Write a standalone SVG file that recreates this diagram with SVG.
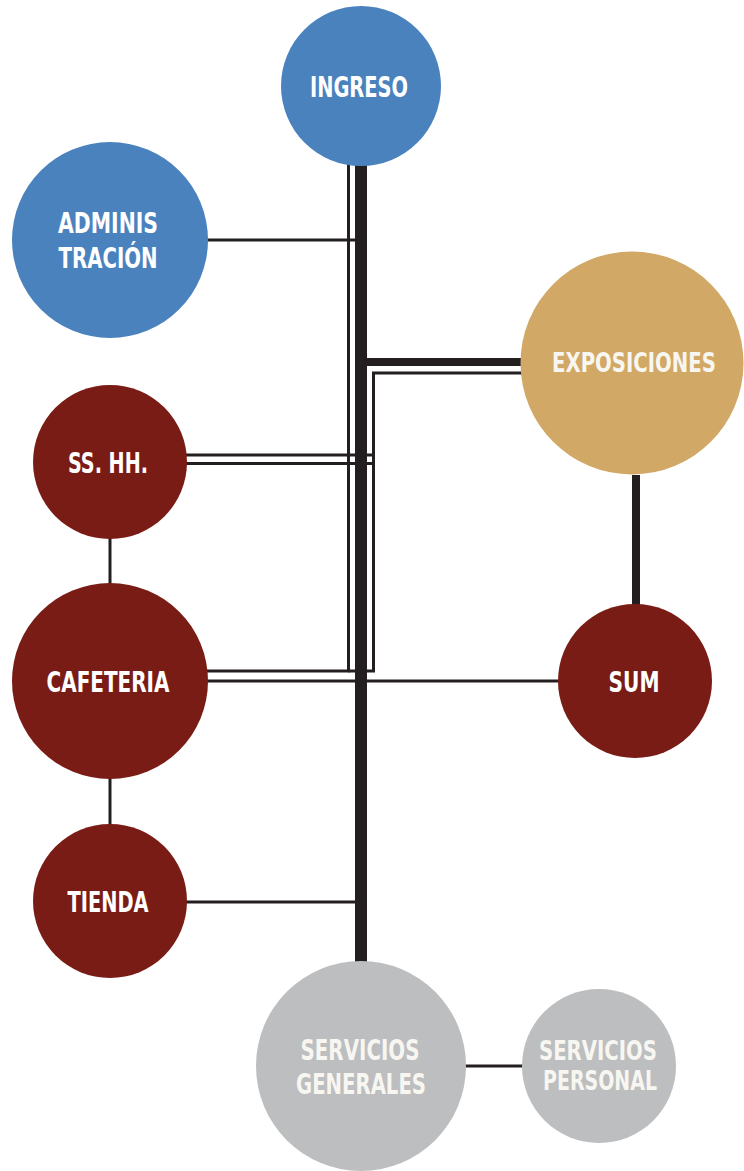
<svg xmlns="http://www.w3.org/2000/svg" width="744" height="1171" viewBox="0 0 744 1171">
<style>
.ln{fill:none;stroke:#231f20;stroke-width:3}
.thk{fill:none;stroke:#231f20;stroke-width:12}
.med{fill:none;stroke:#231f20;stroke-width:8}
.blue{fill:#4a82be}
.red{fill:#7a1c16}
.tan{fill:#d1a865}
.gray{fill:#bdbec0}
text{font-family:"Liberation Sans Narrow","DejaVu Sans Condensed","Liberation Sans",sans-serif;font-weight:bold;font-size:29px;fill:#ffffff;text-anchor:middle}
.lt{fill:#f8f6f0}
.sm{font-size:26px}
</style>
<rect width="744" height="1171" fill="#ffffff"/>
<g id="connectors">
<line class="thk" x1="361" y1="160" x2="361" y2="965"/>
<polyline class="ln" points="348.5,160 348.5,671 205,671"/>
<line class="ln" x1="205" y1="240" x2="356" y2="240"/>
<line class="med" x1="361" y1="362" x2="524" y2="362"/>
<polyline class="ln" points="524,373 373.5,373 373.5,671 348.5,671"/>
<line class="ln" x1="185" y1="455" x2="375" y2="455"/>
<line class="ln" x1="185" y1="463.5" x2="375" y2="463.5"/>
<line class="ln" x1="205" y1="681" x2="562" y2="681"/>
<line class="ln" x1="185" y1="902" x2="356" y2="902"/>
<line class="ln" x1="110" y1="536" x2="110" y2="588"/>
<line class="ln" x1="110" y1="775" x2="110" y2="828"/>
<line class="med" x1="636" y1="475" x2="636" y2="608"/>
<line class="ln" x1="462" y1="1066" x2="526" y2="1066"/>
</g>
<g id="ingreso"><circle class="blue" cx="361" cy="86" r="80"/><text x="359" y="97" textLength="98" lengthAdjust="spacingAndGlyphs">INGRESO</text></g>
<g id="administracion"><circle class="blue" cx="110" cy="240" r="98"/><text x="108" y="233" textLength="100" lengthAdjust="spacingAndGlyphs">ADMINIS</text><text x="108" y="268" textLength="99" lengthAdjust="spacingAndGlyphs">TRACIÓN</text></g>
<g id="exposiciones"><circle class="tan" cx="632" cy="363" r="111.5"/><text class="lt sm" x="634" y="372" textLength="164" lengthAdjust="spacingAndGlyphs">EXPOSICIONES</text></g>
<g id="sshh"><circle class="red" cx="110" cy="462" r="77"/><text x="108" y="473" textLength="80" lengthAdjust="spacingAndGlyphs">SS. HH.</text></g>
<g id="cafeteria"><circle class="red" cx="110" cy="681" r="98"/><text x="108" y="692" textLength="123" lengthAdjust="spacingAndGlyphs">CAFETERIA</text></g>
<g id="sum"><circle class="red" cx="635" cy="681" r="77"/><text x="634" y="692" textLength="51" lengthAdjust="spacingAndGlyphs">SUM</text></g>
<g id="tienda"><circle class="red" cx="110" cy="901" r="77"/><text x="108" y="912" textLength="81" lengthAdjust="spacingAndGlyphs">TIENDA</text></g>
<g id="servicios-generales"><circle class="gray" cx="361" cy="1066" r="105"/><text class="lt" x="360" y="1060" textLength="119" lengthAdjust="spacingAndGlyphs">SERVICIOS</text><text class="lt" x="361" y="1094" textLength="130" lengthAdjust="spacingAndGlyphs">GENERALES</text></g>
<g id="servicios-personal"><circle class="gray" cx="599" cy="1066" r="77"/><text class="lt sm" x="598" y="1060" textLength="118" lengthAdjust="spacingAndGlyphs">SERVICIOS</text><text class="lt sm" x="600" y="1090" textLength="114" lengthAdjust="spacingAndGlyphs">PERSONAL</text></g>
</svg>
